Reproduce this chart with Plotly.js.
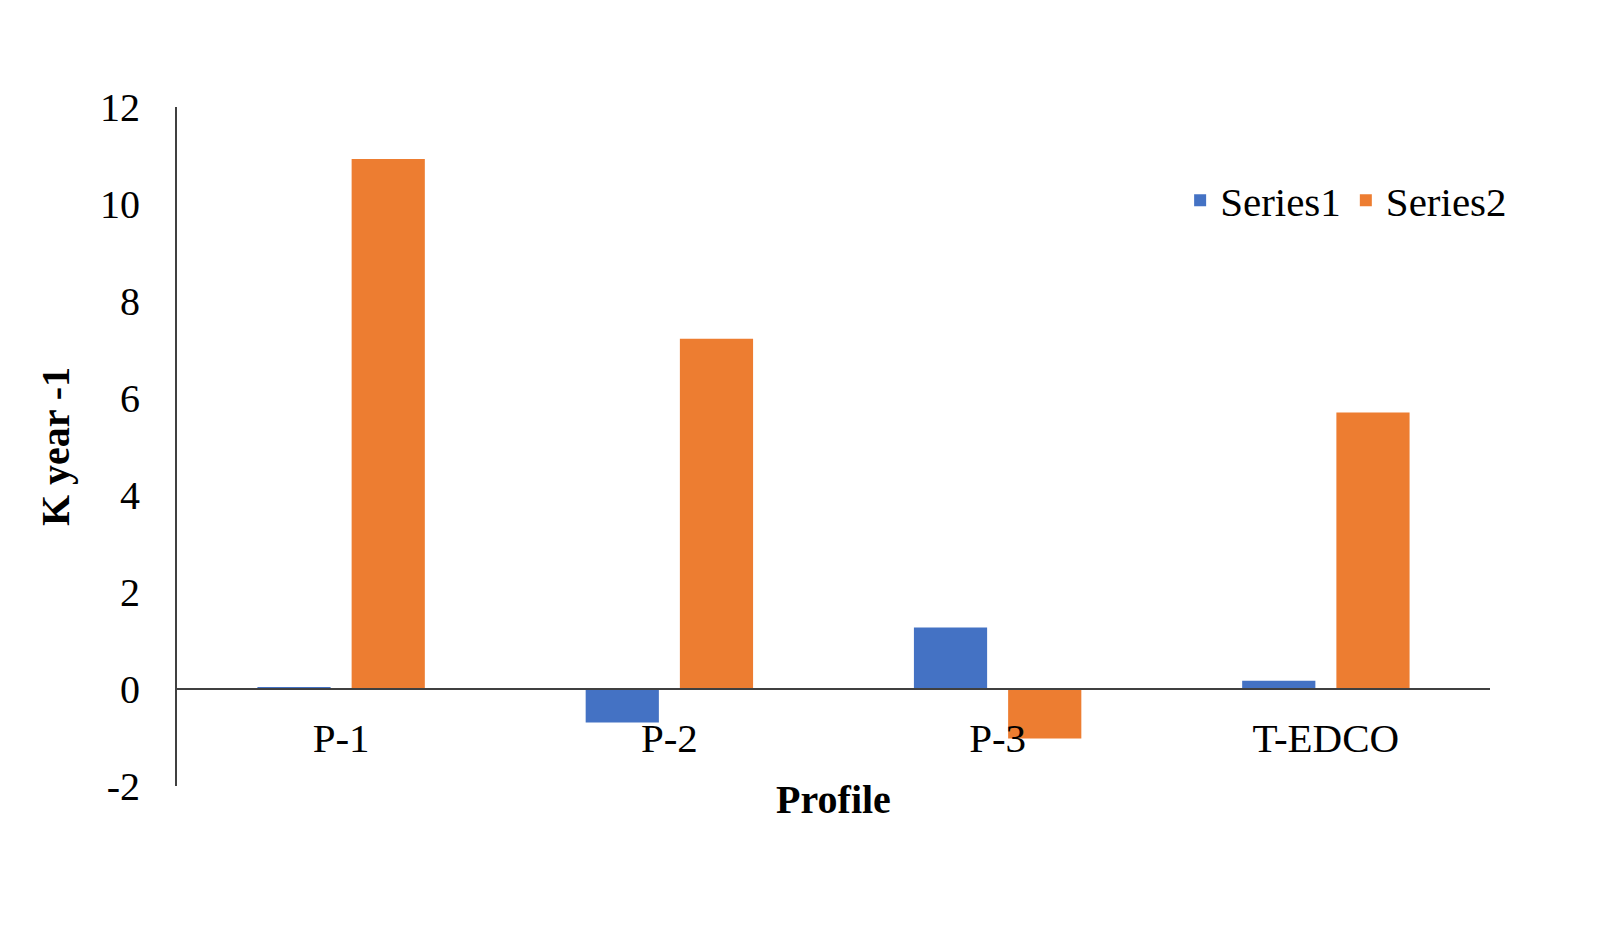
<!DOCTYPE html>
<html>
<head>
<meta charset="utf-8">
<script src="https://cdn.plot.ly/plotly-3.0.1.min.js"></script>
<style>
  html, body { margin: 0; padding: 0; background: #ffffff; }
  #chart { width: 1604px; height: 944px; }
</style>
</head>
<body>
<div id="chart"></div>
<script>
var profiles = ['P-1', 'P-2', 'P-3', 'T-EDCO'];
var series1 = [0.04, -0.69, 1.27, 0.17];
var series2 = [10.93, 7.22, -1.02, 5.70];
var yTicks = [-2, 0, 2, 4, 6, 8, 10, 12];

var serif = 'Liberation Serif, Times New Roman, serif';
var axisColor = '#404040';

var data = [{
    x: profiles,
    y: series1,
    name: 'Series1',
    type: 'bar',
    marker: {color: '#4472C4'}
}, {
    x: profiles,
    y: series2,
    name: 'Series2',
    type: 'bar',
    marker: {color: '#ED7D31'}
}];

var layout = {
    width: 1604,
    height: 944,
    margin: {l: 177, r: 114, t: 107, b: 158},
    paper_bgcolor: '#ffffff',
    plot_bgcolor: '#ffffff',
    font: {family: serif, size: 40, color: '#000000'},
    barmode: 'group',
    bargap: 0.426,
    bargroupgap: 0.223,
    showlegend: true,
    legend: {
        orientation: 'h',
        x: 0.764,
        xanchor: 'left',
        y: 0.862,
        yanchor: 'middle',
        font: {family: serif, size: 41, color: '#000000'},
        bgcolor: 'rgba(0,0,0,0)',
        itemwidth: 30
    },
    xaxis: {
        anchor: 'free',
        position: 1 / 7,
        showline: true,
        linecolor: axisColor,
        linewidth: 2,
        showgrid: false,
        zeroline: false,
        ticks: '',
        ticklabelstandoff: 13,
        tickfont: {family: serif, size: 41, color: '#000000'},
        title: {
            text: '<b>Profile</b>',
            font: {family: serif, size: 40, color: '#000000'},
            standoff: 24
        }
    },
    yaxis: {
        range: [-2, 12],
        tickvals: yTicks,
        ticktext: yTicks.map(String),
        showline: true,
        linecolor: axisColor,
        linewidth: 2,
        showgrid: false,
        zeroline: false,
        ticks: '',
        ticklabelstandoff: 27,
        tickfont: {family: serif, size: 40, color: '#000000'},
        title: {
            text: '<b>K year -1</b>',
            font: {family: serif, size: 40, color: '#000000'},
            standoff: 18
        }
    }
};

Plotly.newPlot('chart', data, layout, {displayModeBar: false});
</script>
</body>
</html>
